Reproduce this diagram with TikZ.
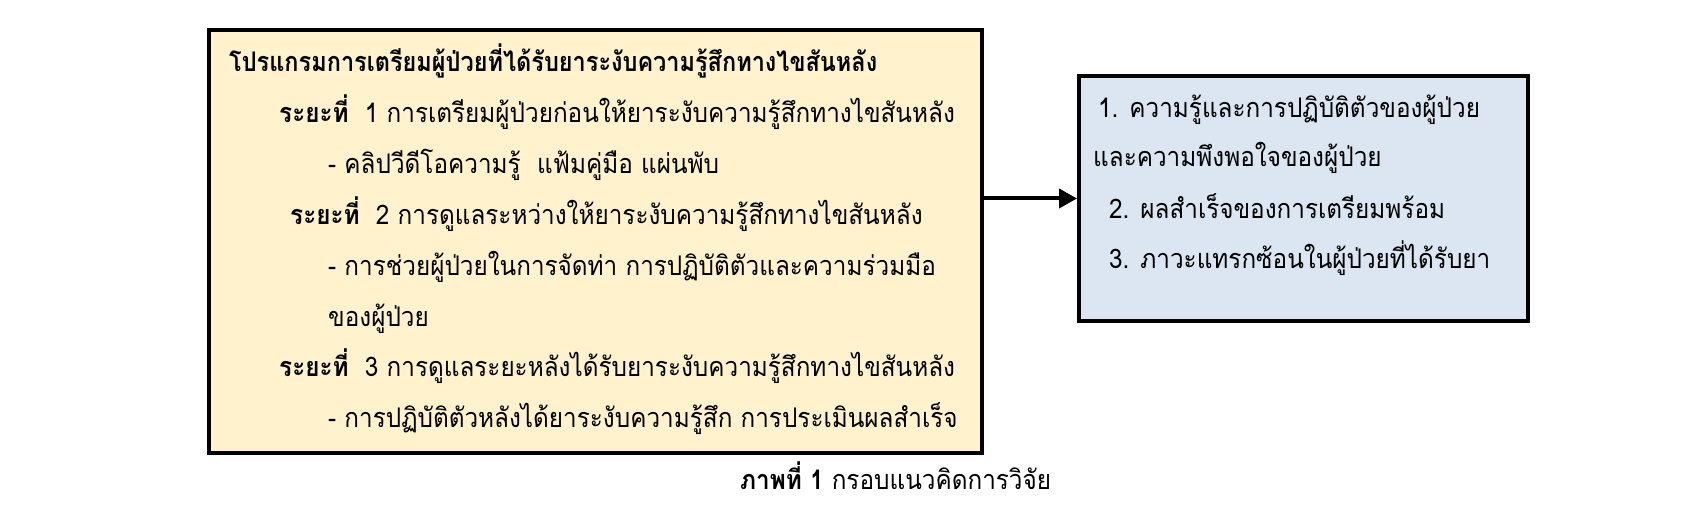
\documentclass[tikz,border=0pt]{standalone}
\usepackage{fontspec}
\usetikzlibrary{arrows.meta}
\newfontfamily\thaifont[Script=Thai, FakeStretch=0.9]{Loma}
\newfontfamily\thaititle[Script=Thai, FakeStretch=0.87]{Loma}
\definecolor{creamfill}{HTML}{FFF2CC}
\definecolor{bluefill}{HTML}{DCE6F2}
\tikzset{
  panel/.style={draw=black, line width=4pt, inner sep=0pt},
  txt/.style={anchor=base west, inner sep=0pt, font=\thaifont\fontsize{27}{31}\selectfont},
  ttl/.style={anchor=base west, inner sep=0pt, font=\thaititle\fontsize{27}{31}\selectfont\bfseries},
  conn/.style={line width=4pt, -{Triangle[length=18pt,width=19pt]}}
}
\begin{document}
\begin{tikzpicture}[x=1pt,y=-1pt]
\useasboundingbox (0,0) rectangle (1697,518);
\node[panel, fill=creamfill, minimum width=773pt, minimum height=423pt] (left) at (595.5,241.5) {};
\node[panel, fill=bluefill, minimum width=449pt, minimum height=245pt] (right) at (1303.5,198.5) {};
\draw[conn] (right.west -| left.east) -- (right.west);
\node[ttl] (l1) at (229,72) {โปรแกรมการเตรียมผู้ป่วยที่ได้รับยาระงับความรู้สึกทางไขสันหลัง};
\node[txt] (l2) at (279,122.7) {\textbf{ระยะที่}\ \ 1 การเตรียมผู้ป่วยก่อนให้ยาระงับความรู้สึกทางไขสันหลัง};
\node[txt] (l3) at (328,173.4) {- คลิปวีดีโอความรู้\ \ แฟ้มคู่มือ แผ่นพับ};
\node[txt] (l4) at (290,225) {\textbf{ระยะที่}\ \ 2 การดูแลระหว่างให้ยาระงับความรู้สึกทางไขสันหลัง};
\node[txt] (l5) at (328,276) {- การช่วยผู้ป่วยในการจัดท่า การปฏิบัติตัวและความร่วมมือ};
\node[txt] (l6) at (328,326.5) {ของผู้ป่วย};
\node[txt] (l7) at (279,377) {\textbf{ระยะที่}\ \ 3 การดูแลระยะหลังได้รับยาระงับความรู้สึกทางไขสันหลัง};
\node[txt] (l8) at (328,427.5) {- การปฏิบัติตัวหลังได้ยาระงับความรู้สึก การประเมินผลสำเร็จ};
\node[txt] (r1) at (1098,118) {1. ความรู้และการปฏิบัติตัวของผู้ป่วย};
\node[txt] (r2) at (1093,167) {และความพึงพอใจของผู้ป่วย};
\node[txt] (r3) at (1109,219) {2. ผลสำเร็จของการเตรียมพร้อม};
\node[txt] (r4) at (1109,269) {3. ภาวะแทรกซ้อนในผู้ป่วยที่ได้รับยา};
\node[txt] (cap) at (740,489) {\textbf{ภาพที่ 1} กรอบแนวคิดการวิจัย};
\end{tikzpicture}
\end{document}
